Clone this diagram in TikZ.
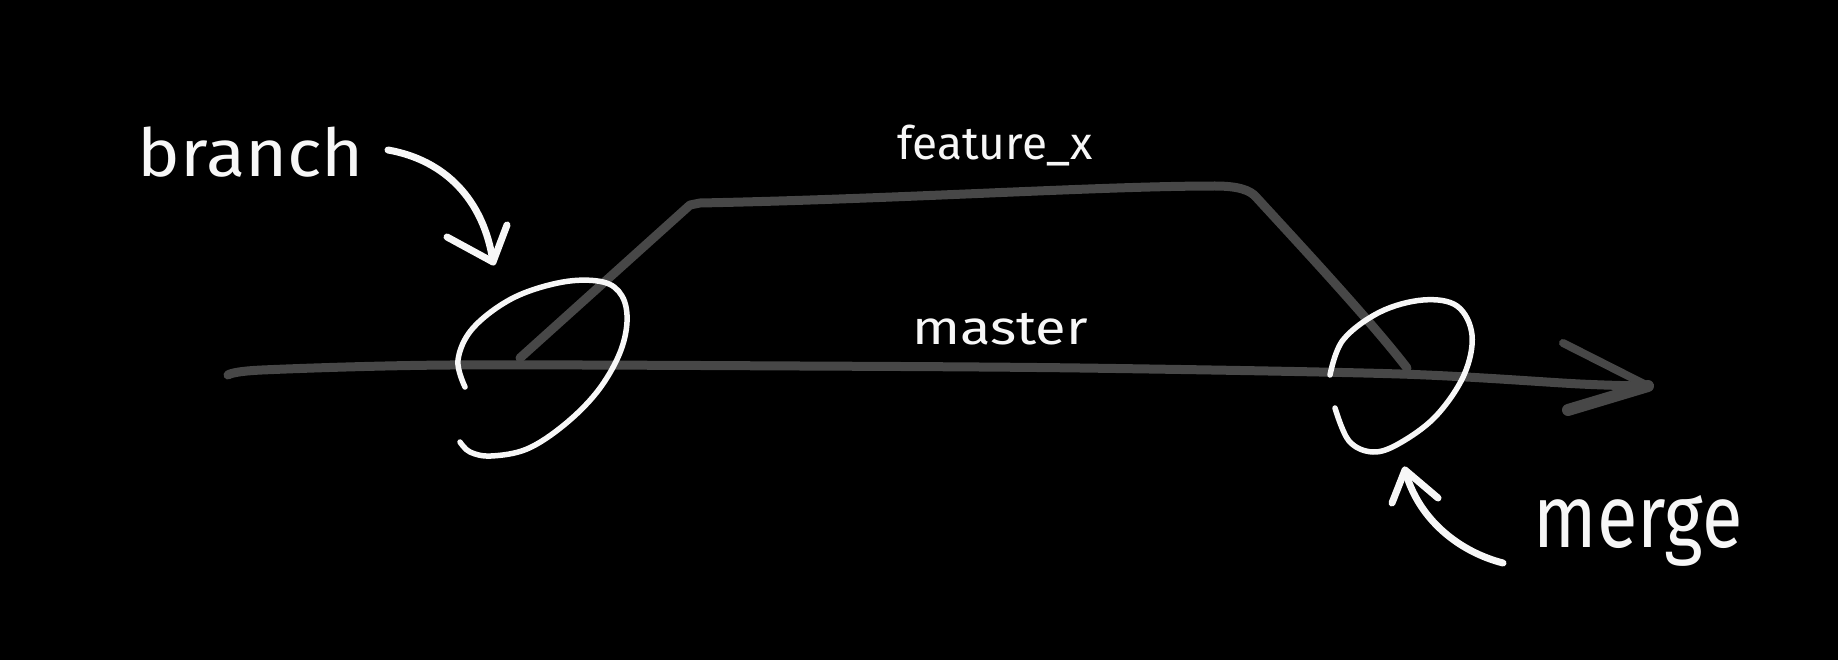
\documentclass[tikz,border=0pt]{standalone}
\usepackage{fontspec}
\setmainfont{Fira Sans}
\definecolor{linegray}{HTML}{474747}
\definecolor{chalk}{HTML}{F7F7F7}
\tikzset{
  gline/.style={draw=linegray, line width=9pt, line cap=round, line join=round},
  wline/.style={draw=chalk, line width=5.5pt, line cap=round, line join=round},
  warrow/.style={draw=chalk, line width=7pt, line cap=round, line join=round},
  lbl/.style={text=chalk, inner sep=0pt, anchor=base}
}
\begin{document}
\begin{tikzpicture}[x=1pt,y=-1pt]
\fill[black] (0,0) rectangle (1838,660);
\useasboundingbox (0,0) rectangle (1838,660);

% labels
\node[lbl, font=\fontsize{72}{72}\selectfont] (branchlbl) at (251,177) {\scalebox{1}[0.92]{branch}};
\node[lbl, font=\fontsize{46}{46}\selectfont] (featurelbl) at (995,160) {feature\_x};
\node[lbl, font=\fontsize{56}{56}\selectfont] (masterlbl) at (1000,344) {\scalebox{1}[0.85]{master}};
\node[lbl, font=\fontsize{74}{74}\selectfont] (mergelbl) at (1638,547) {\scalebox{1}[1.2]{merge}};

% key points
\coordinate (mstart) at (228,375);
\coordinate (mtip) at (1648,386);
\coordinate (fork) at (520,358);
\coordinate (join) at (1407,368);

% master line
\draw[gline] plot[smooth] coordinates {(228,375) (262,370) (450,365) (800,366) (1080,368) (1400,374) (1580,384) (1645,386)};
\draw[gline, line width=8pt] (1563,343) -- (mtip);
\draw[gline, line width=12pt] (mtip) -- (1568,410);

% feature branch
\draw[gline] (fork) -- (690,205) -- (700,203)
  .. controls (900,199) and (1100,186) .. (1215,186)
  .. controls (1238,186) and (1250,190) .. (1256,197)
  .. controls (1300,245) and (1370,320) .. (join);

% circles
\draw[wline] plot[smooth, tension=0.6] coordinates {(465,387) (458,360) (473,328) (513,298) (563,282) (603,282) (622,296) (627,322) (619,355) (597,392) (564,425) (527,449) (491,456) (470,452) (460,442)};
\draw[wline] plot[smooth, tension=0.6] coordinates {(1330,375) (1343,340) (1380,312) (1423,300) (1457,306) (1472,335) (1464,375) (1436,416) (1400,443) (1373,452) (1349,441) (1335,408)};

% branch arrow
\coordinate (bstart) at (388,150);
\coordinate (btip) at (493,262);
\draw[warrow] (bstart) .. controls (445,160) and (484,200) .. (btip);
\draw[warrow] (447,237) -- (btip) -- (507,225);

% merge arrow
\coordinate (gstart) at (1503,563);
\coordinate (gtip) at (1405,470);
\draw[warrow] (gstart) .. controls (1460,552) and (1418,520) .. (gtip);
\draw[warrow] (1392,503) -- (gtip) -- (1438,498);
\end{tikzpicture}
\end{document}
